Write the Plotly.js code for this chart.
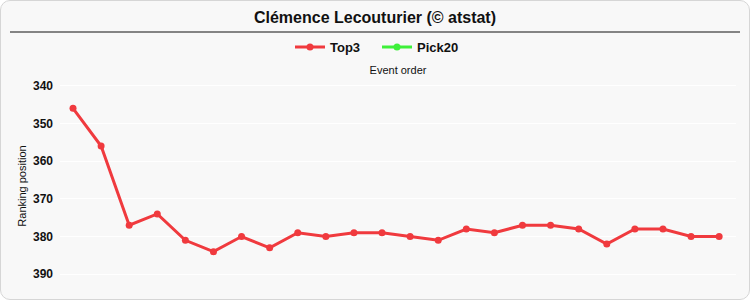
<!DOCTYPE html>
<html>
<head>
<meta charset="utf-8">
<script src="https://cdn.plot.ly/plotly-3.0.1.min.js"></script>
<style>
  html, body { margin: 0; padding: 0; background: #ffffff; }
  #frame {
    position: absolute; left: 0; top: 0;
    width: 748px; height: 298px;
    border: 1px solid #d6d6d6; border-radius: 10px;
    background: #f8f8f8; overflow: hidden;
  }
  #chart { position: absolute; left: -1px; top: -1px; width: 750px; height: 300px; }
</style>
</head>
<body>
<div id="frame"><div id="chart"></div></div>
<script>
// Ranking position after each event (lower number = better rank)
const eventOrder = [1, 2, 3, 4, 5, 6, 7, 8, 9, 10, 11, 12, 13, 14, 15, 16, 17, 18, 19, 20, 21, 22, 23, 24];
const top3Rank = [346, 356, 377, 374, 381, 384, 380, 383, 379, 380, 379, 379, 380, 381, 378, 379, 377, 377, 378, 382, 378, 378, 380, 380];
// No ranked Pick20 results yet: the series only appears in the legend
const pick20Rank = [null];
const seriesNames = ['Top3', 'Pick20'];
const yTicks = [340, 350, 360, 370, 380, 390];

const font = 'Liberation Sans, Arial, sans-serif';

const traces = [
  {
    x: eventOrder, y: top3Rank, name: seriesNames[0],
    type: 'scatter', mode: 'lines+markers',
    line: { color: '#f03a3e', width: 3 },
    marker: { color: '#f03a3e', size: 7 },
    hoverinfo: 'x+y'
  },
  {
    x: eventOrder.slice(0, pick20Rank.length), y: pick20Rank, name: seriesNames[1],
    type: 'scatter', mode: 'lines+markers',
    line: { color: '#3ef03a', width: 3 },
    marker: { color: '#3ef03a', size: 7 },
    showlegend: true
  }
];

const layout = {
  width: 750, height: 300,
  paper_bgcolor: 'rgba(0,0,0,0)',
  plot_bgcolor: 'rgba(0,0,0,0)',
  margin: { l: 60, r: 14, t: 80, b: 8 },
  font: { family: font, color: '#111' },
  title: {
    text: 'Clémence Lecouturier (© atstat)',
    font: { family: font, size: 16, color: '#111', weight: 'bold' },
    x: 0.5, xref: 'container', xanchor: 'center',
    y: 1 - 17 / 300, yref: 'container', yanchor: 'middle'
  },
  showlegend: true,
  legend: {
    orientation: 'h', x: (290 - 60) / 676, xanchor: 'left',
    y: 1 + (80 - 47) / 212, yanchor: 'middle',
    font: { family: font, size: 13, color: '#111', weight: 'bold' },
    bgcolor: 'rgba(0,0,0,0)', itemwidth: 30,
    entrywidth: 42, entrywidthmode: 'pixels'
  },
  xaxis: {
    side: 'top',
    range: [0.537, 24.6],
    showticklabels: false, ticks: '',
    showgrid: false, zeroline: false, showline: false,
    title: { text: 'Event order', font: { family: font, size: 11, color: '#111' }, standoff: 2 }
  },
  yaxis: {
    range: [394.7, 338.5], autorange: false,
    tickvals: yTicks, ticktext: yTicks.map(String),
    tickfont: { family: font, size: 12, color: '#111', weight: 'bold' },
    ticks: '', ticklabelstandoff: 6,
    showgrid: true, gridcolor: '#ffffff', gridwidth: 1,
    zeroline: false, showline: false,
    title: { text: 'Ranking position', font: { family: font, size: 11, color: '#111' }, standoff: 4 }
  },
  shapes: [
    {
      type: 'line', xref: 'paper', yref: 'paper',
      x0: (10 - 60) / 676, x1: (740 - 60) / 676,
      y0: 1 + (80 - 32) / 212, y1: 1 + (80 - 32) / 212,
      line: { color: '#111', width: 1 }
    }
  ]
};

Plotly.newPlot('chart', traces, layout, { displayModeBar: false, staticPlot: true });
</script>
</body>
</html>
